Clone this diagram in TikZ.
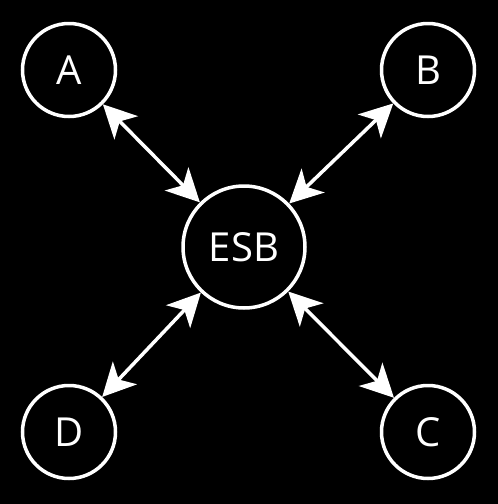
\documentclass[tikz,border=0pt]{standalone}
\usepackage{fontspec}
\setmainfont{Open Sans}
\usetikzlibrary{arrows.meta}

\begin{document}
\begin{tikzpicture}[x=1pt, y=-1pt,
		app/.style={circle, draw=white, line width=3.5pt, minimum size=93pt, inner sep=0pt, text=white, font=\fontsize{40}{40}\selectfont},
		bus/.style={app, minimum size=122pt},
		tip/.tip={Stealth[length=33pt 0, width=33pt 0, inset=9pt 0]},
		link/.style={tip-tip, draw=white, line width=3.5pt}]
		\fill [black] (0,0) rectangle (498,504);
		\useasboundingbox (0,0) rectangle (498,504);
		\node [bus] (esb) at (244,247) {ESB};
		\node [app] (a) at (69,70) {A};
		\node [app] (b) at (428,70) {B};
		\node [app] (d) at (69,432) {D};
		\node [app] (c) at (428,432) {C};
		\draw [link] (a) -- (esb);
		\draw [link] (b) -- (esb);
		\draw [link] (d) -- (esb);
		\draw [link] (c) -- (esb);
	\end{tikzpicture}
\end{document}
